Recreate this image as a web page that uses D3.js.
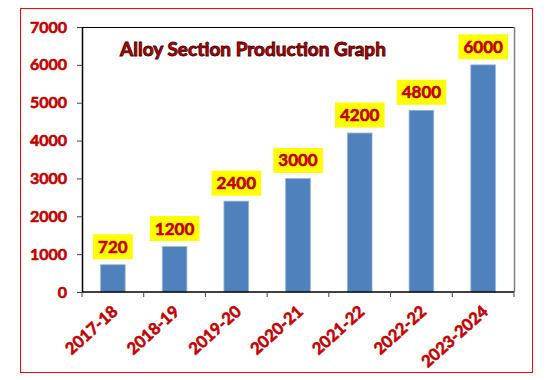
<!DOCTYPE html>
<html>
<head>
<meta charset="utf-8">
<script src="https://cdn.jsdelivr.net/npm/d3@7/dist/d3.min.js"></script>
<style>
  html, body { margin: 0; padding: 0; background: #fff; }
  svg { display: block; }
  text { font-family: Lato, "Open Sans", sans-serif; font-weight: bold; }
</style>
</head>
<body>
<svg id="chart" width="550" height="380"></svg>
<script>
const categories = ["2017-18", "2018-19", "2019-20", "2020-21", "2021-22", "2022-22", "2023-2024"];
const production = [720, 1200, 2400, 3000, 4200, 4800, 6000];
const yTicks = [0, 1000, 2000, 3000, 4000, 5000, 6000, 7000];
const chartTitle = "Alloy Section Production Graph";

const svg = d3.select("#chart");
const red = "#C00000";

// outer red border
svg.append("rect")
  .attr("x", 20.5).attr("y", 8.5)
  .attr("width", 512).attr("height", 364)
  .attr("fill", "#fff").attr("stroke", "#FF0000").attr("stroke-width", 1);

const plot = { left: 82, right: 514, top: 27, bottom: 292 };

const x = d3.scaleBand().domain(categories)
  .range([plot.left, plot.right]).paddingInner(0.6).paddingOuter(0.3);
const y = d3.scaleLinear().domain([0, 7000]).range([plot.bottom, plot.top]);

// plot frame top and right
svg.append("line")
  .attr("x1", plot.left).attr("x2", plot.right)
  .attr("y1", plot.top + 0.5).attr("y2", plot.top + 0.5)
  .attr("stroke", "#000").attr("stroke-width", 1);
svg.append("line")
  .attr("x1", plot.right + 0.5).attr("x2", plot.right + 0.5)
  .attr("y1", plot.top).attr("y2", plot.bottom)
  .attr("stroke", "#808080").attr("stroke-width", 1.5);

// bars
svg.append("g").selectAll("rect")
  .data(production)
  .join("rect")
  .attr("x", (d, i) => x(categories[i]))
  .attr("y", d => y(d))
  .attr("width", x.bandwidth())
  .attr("height", d => y(0) - y(d))
  .attr("fill", "#4F81BD")
  .attr("stroke", "#9DB7DA")
  .attr("stroke-width", 0.8);

// y axis
const yAxis = svg.append("g")
  .attr("transform", `translate(${plot.left},0)`)
  .call(d3.axisLeft(y).tickValues(yTicks).tickFormat(d3.format("d"))
    .tickSize(5).tickSizeOuter(0).tickPadding(10));
yAxis.select(".domain").attr("stroke", "#000").attr("stroke-width", 1.5);
yAxis.selectAll(".tick line").attr("stroke", "#444");
yAxis.selectAll(".tick text")
  .attr("fill", red).attr("font-size", 16)
  .attr("stroke", red).attr("stroke-width", 0.6)
  .attr("font-family", "Lato, sans-serif").attr("font-weight", "bold");

// x axis with ticks at category boundaries
const xAxisG = svg.append("g").attr("transform", `translate(0,${plot.bottom})`);
const step = x.step();
const boundaries = categories.map(c => x(c) - (step - x.bandwidth()) / 2)
  .concat([plot.right]);
xAxisG.append("line")
  .attr("x1", plot.left).attr("x2", plot.right)
  .attr("y1", 0).attr("y2", 0)
  .attr("stroke", "#000").attr("stroke-width", 1.5);
xAxisG.selectAll("line.tk")
  .data(boundaries)
  .join("line").attr("class", "tk")
  .attr("x1", d => d).attr("x2", d => d)
  .attr("y1", 0).attr("y2", 5)
  .attr("stroke", "#444");
xAxisG.selectAll("text.lbl")
  .data(categories)
  .join("text").attr("class", "lbl")
  .attr("transform", d => `translate(${x(d) + x.bandwidth() / 2 + 6},${21}) rotate(-42)`)
  .attr("text-anchor", "end")
  .attr("fill", red)
  .attr("stroke", red).attr("stroke-width", 0.6)
  .attr("font-size", 16.5)
  .text(d => d);

// title
svg.append("text")
  .attr("x", 253).attr("y", 56)
  .attr("text-anchor", "middle")
  .attr("fill", red)
  .attr("stroke", "#4a0000").attr("stroke-width", 0.9)
  .attr("font-size", 19)
  .text(chartTitle);

// data labels with yellow boxes
const lbl = svg.append("g").selectAll("g")
  .data(production)
  .join("g")
  .attr("transform", (d, i) => `translate(${x(categories[i]) + x.bandwidth() / 2},${y(d) - 18})`);
lbl.append("text")
  .attr("text-anchor", "middle")
  .attr("dy", "0.35em")
  .attr("fill", red)
  .attr("stroke", red).attr("stroke-width", 0.6)
  .attr("font-size", 17)
  .text(d => d);
lbl.each(function () {
  const g = d3.select(this);
  const bb = g.select("text").node().getBBox();
  g.insert("rect", "text")
    .attr("x", bb.x - 5).attr("y", -12.5)
    .attr("width", bb.width + 10).attr("height", 25)
    .attr("fill", "#FFFF00");
});
</script>
</body>
</html>
